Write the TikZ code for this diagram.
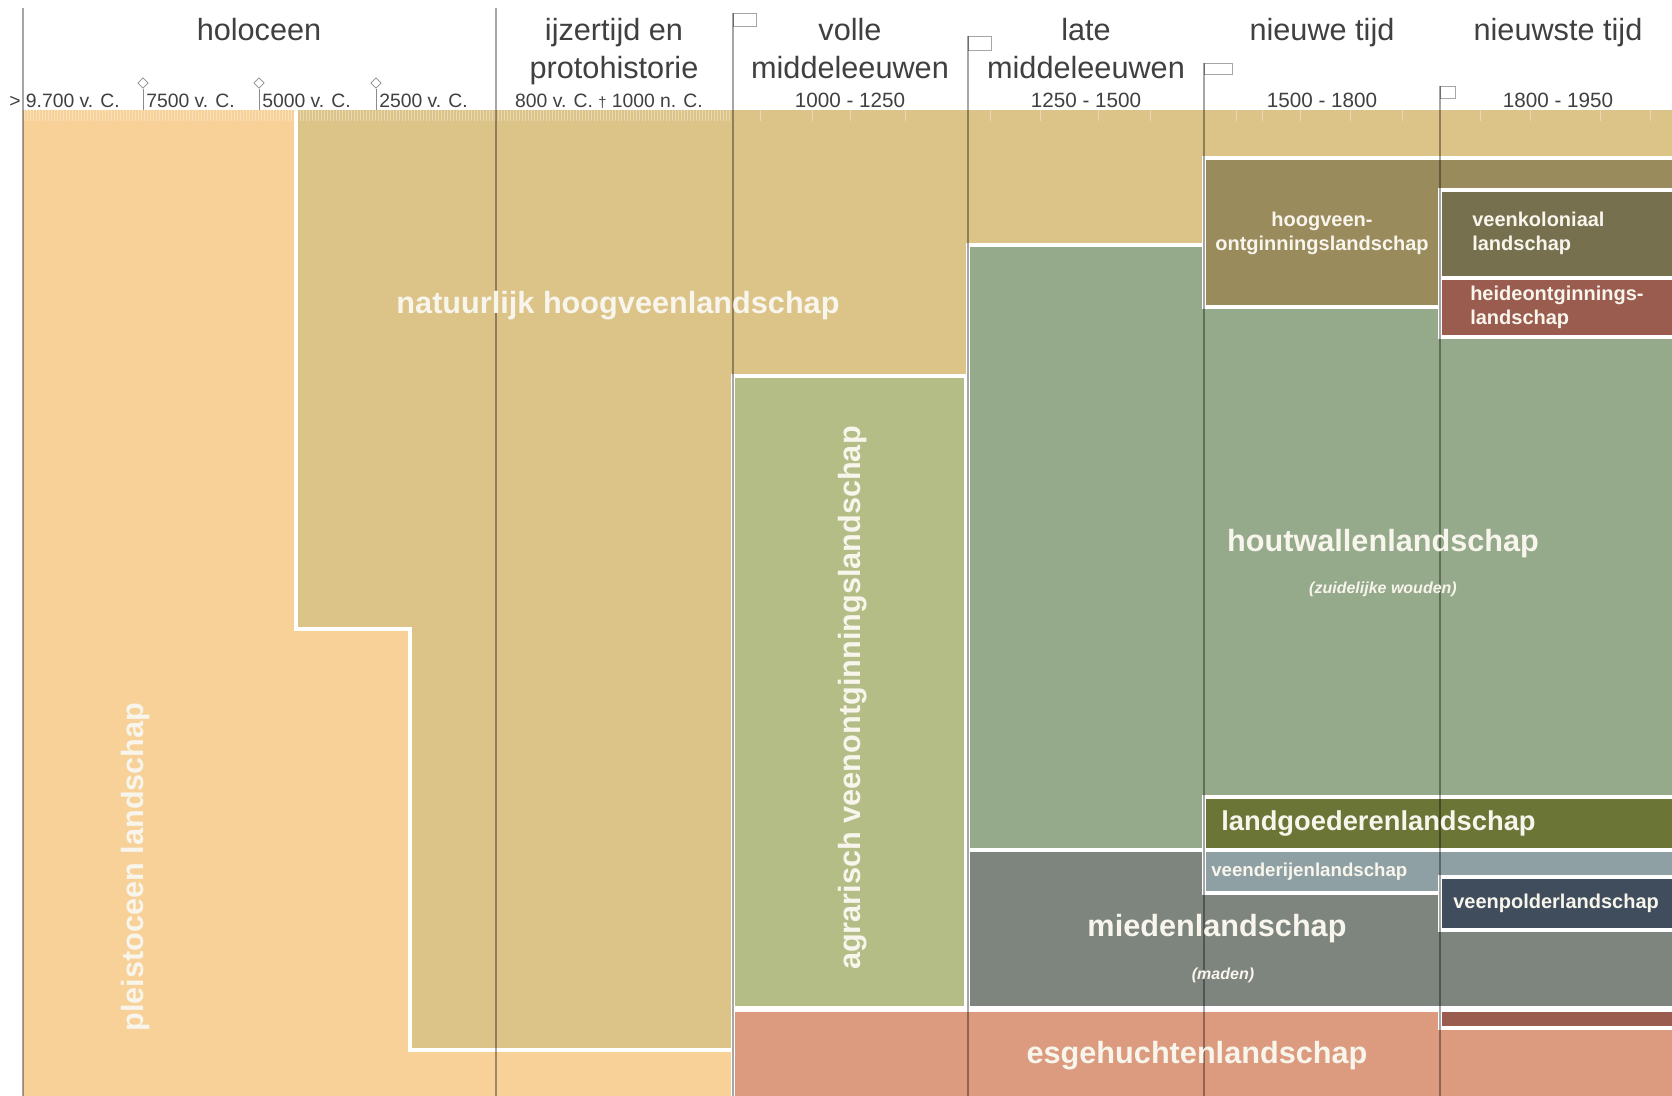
\documentclass[tikz,border=0pt]{standalone}
\usepackage{fontspec}
\setmainfont{Liberation Sans}
\usetikzlibrary{shapes.geometric}
\definecolor{ink}{HTML}{404040}
\definecolor{labtext}{HTML}{F8F5EC}
\definecolor{pleist}{HTML}{F7D198}
\definecolor{hoogveen}{HTML}{DCC489}
\definecolor{agrar}{HTML}{B3BD85}
\definecolor{houtw}{HTML}{95A98B}
\definecolor{ontg}{HTML}{9A8B5D}
\definecolor{veenk}{HTML}{77704F}
\definecolor{heide}{HTML}{9A5C4F}
\definecolor{landg}{HTML}{6A7536}
\definecolor{veend}{HTML}{8FA0A4}
\definecolor{veenp}{HTML}{3F4D5D}
\definecolor{mieden}{HTML}{7E857E}
\definecolor{esge}{HTML}{DC9B7E}
\tikzset{
  zone/.style={draw=white, line width=3pt},
  rim/.style={draw=white, line width=3pt, line join=miter},
  per/.style={draw=black, opacity=0.35, line width=1pt},
  tick/.style={draw=white, opacity=0.35, line width=0.5pt},
  era/.style={text=ink, font=\fontsize{23}{28}\selectfont, inner sep=0pt},
  date/.style={text=ink, font=\fontsize{15.5}{18}\selectfont, inner sep=0pt},
  dates/.style={text=ink, font=\fontsize{14.5}{17}\selectfont, inner sep=0pt},
  tag/.style={draw=black!35, fill=white, line width=0.4pt, inner sep=0pt, anchor=north west},
  pin/.style={diamond, draw=black!45, fill=white, line width=0.5pt, inner sep=0pt, minimum size=8pt},
  lab/.style={text=labtext, font=\bfseries\fontsize{23}{26}\selectfont, inner sep=0pt},
  labs/.style={text=labtext, font=\bfseries\fontsize{15}{18}\selectfont, inner sep=0pt},
  sub/.style={text=labtext, font=\bfseries\itshape\fontsize{12}{14}\selectfont, inner sep=0pt},
}
\begin{document}
\begin{tikzpicture}[x=0.75pt,y=-0.75pt]
  \useasboundingbox (0,0) rectangle (1672,1096);
  \fill[white] (0,0) rectangle (1672,1096);
  \begin{scope}
    \clip (0,0) rectangle (1672,1096);
    \fill[pleist] (23,110) rectangle (733,1096);
    \fill[hoogveen] (296,110) -- (1672,110) -- (1672,1096) -- (733,1096) -- (733,1050)
      -- (410,1050) -- (410,629) -- (296,629) -- cycle;
    \draw[rim] (296,110) -- (296,629) -- (410,629) -- (410,1050) -- (733,1050);
    \foreach \x in {24,27,...,731} \draw[tick] (\x,110) -- (\x,121);
    \foreach \x in {760,812,850,905,990,1040,1098,1150,1236,1262,1300,1350,1402,1480,1530,1600,1650}
      \draw[tick] (\x,110) -- (\x,121);
    \filldraw[zone, fill=agrar] (733,376) rectangle (966,1008);
    \filldraw[zone, fill=houtw] (968,245) rectangle (1690,850);
    \filldraw[zone, fill=ontg] (1204,158) rectangle (1690,307);
    \filldraw[zone, fill=veenk] (1440,190) rectangle (1690,278);
    \filldraw[zone, fill=heide] (1440,278) rectangle (1690,337);
    \filldraw[zone, fill=mieden] (968,850) rectangle (1690,1008);
    \filldraw[zone, fill=landg] (1204,797) rectangle (1690,850);
    \filldraw[zone, fill=veend] (1204,850) rectangle (1690,893);
    \filldraw[zone, fill=veenp] (1440,877) rectangle (1690,930);
    \filldraw[zone, fill=esge] (733,1010) rectangle (1690,1110);
    \filldraw[zone, fill=heide, line width=2.5pt] (1440,1010) rectangle (1690,1028);
  \end{scope}

  \node[tag, minimum width=23pt*0.75, minimum height=13pt*0.75] (t1) at (733,13) {};
  \node[tag, minimum width=23pt*0.75, minimum height=14pt*0.75] (t2) at (968,36) {};
  \node[tag, minimum width=28pt*0.75, minimum height=11pt*0.75] (t3) at (1204,63) {};
  \node[tag, minimum width=15pt*0.75, minimum height=12pt*0.75] (t4) at (1440,86) {};
  \coordinate (p0) at (23,8);
  \coordinate (p1) at (496,8);
  \foreach \p in {p0,p1,t1.north west,t2.north west,t3.north west,t4.north west}
    \draw[per] (\p) -- (\p |- 0,1096);

  \node[era, anchor=base] (holo) at (259,40) {holoceen};
  \node[era, anchor=base] (ijz1) at (614,40) {ijzertijd en};
  \node[era, anchor=base] (ijz2) at (614,78) {protohistorie};
  \node[era, anchor=base] (vol1) at (850,40) {volle};
  \node[era, anchor=base] (vol2) at (850,78) {middeleeuwen};
  \node[era, anchor=base] (lat1) at (1086,40) {late};
  \node[era, anchor=base] (lat2) at (1086,78) {middeleeuwen};
  \node[era, anchor=base] (nw) at (1322,40) {nieuwe tijd};
  \node[era, anchor=base] (nwst) at (1558,40) {nieuwste tijd};

  \node[dates, anchor=base west] (d0) at (9,107) {> 9.700 v. C.};
  \node[dates, anchor=base west] (d1) at (146,107) {7500 v. C.};
  \node[dates, anchor=base west] (d2) at (262,107) {5000 v. C.};
  \node[dates, anchor=base west] (d3) at (379,107) {2500 v. C.};
  \node[dates, anchor=base] (d4) at (609,107) {800 v. C. {\fontsize{11}{11}\selectfont †} 1000 n. C.};
  \node[date, anchor=base] (d5) at (850,107) {1000 - 1250};
  \node[date, anchor=base] (d6) at (1086,107) {1250 - 1500};
  \node[date, anchor=base] (d7) at (1322,107) {1500 - 1800};
  \node[date, anchor=base] (d8) at (1558,107) {1800 - 1950};
  \foreach \i/\x in {1/143,2/259,3/376} {
    \node[pin] (m\i) at (\x,83) {};
    \draw[black!45, line width=0.5pt] (m\i.south) -- (\x,110);
  }

  \node[lab] (natuur) at (618,306) {natuurlijk hoogveenlandschap};
  \node[lab, rotate=90] (pleistoceen) at (136,867) {pleistoceen landschap};
  \node[lab, rotate=90] (agrarisch) at (853,698) {agrarisch veenontginningslandschap};
  \node[lab] (houtwal) at (1383,544) {houtwallenlandschap};
  \node[sub] (zuid) at (1383,589) {(zuidelijke wouden)};
  \node[labs, align=center] (ontgin) at (1322,233) {hoogveen-\\ontginningslandschap};
  \node[labs, align=left, anchor=west] (veenkol) at (1472,233) {veenkoloniaal\\landschap};
  \node[labs, align=left, anchor=west] (heideo) at (1470,307) {heideontginnings-\\landschap};
  \node[lab, font=\bfseries\fontsize{20.5}{24}\selectfont, anchor=west] (landgoed) at (1221,823) {landgoederenlandschap};
  \node[labs, font=\bfseries\fontsize{14}{16}\selectfont, anchor=west] (veenderij) at (1211,872) {veenderijenlandschap};
  \node[labs, anchor=west] (veenpolder) at (1453,903) {veenpolderlandschap};
  \node[lab] (mied) at (1217,929) {miedenlandschap};
  \node[sub] (maden) at (1223,975) {(maden)};
  \node[lab] (esgeh) at (1197,1056) {esgehuchtenlandschap};
\end{tikzpicture}
\end{document}
